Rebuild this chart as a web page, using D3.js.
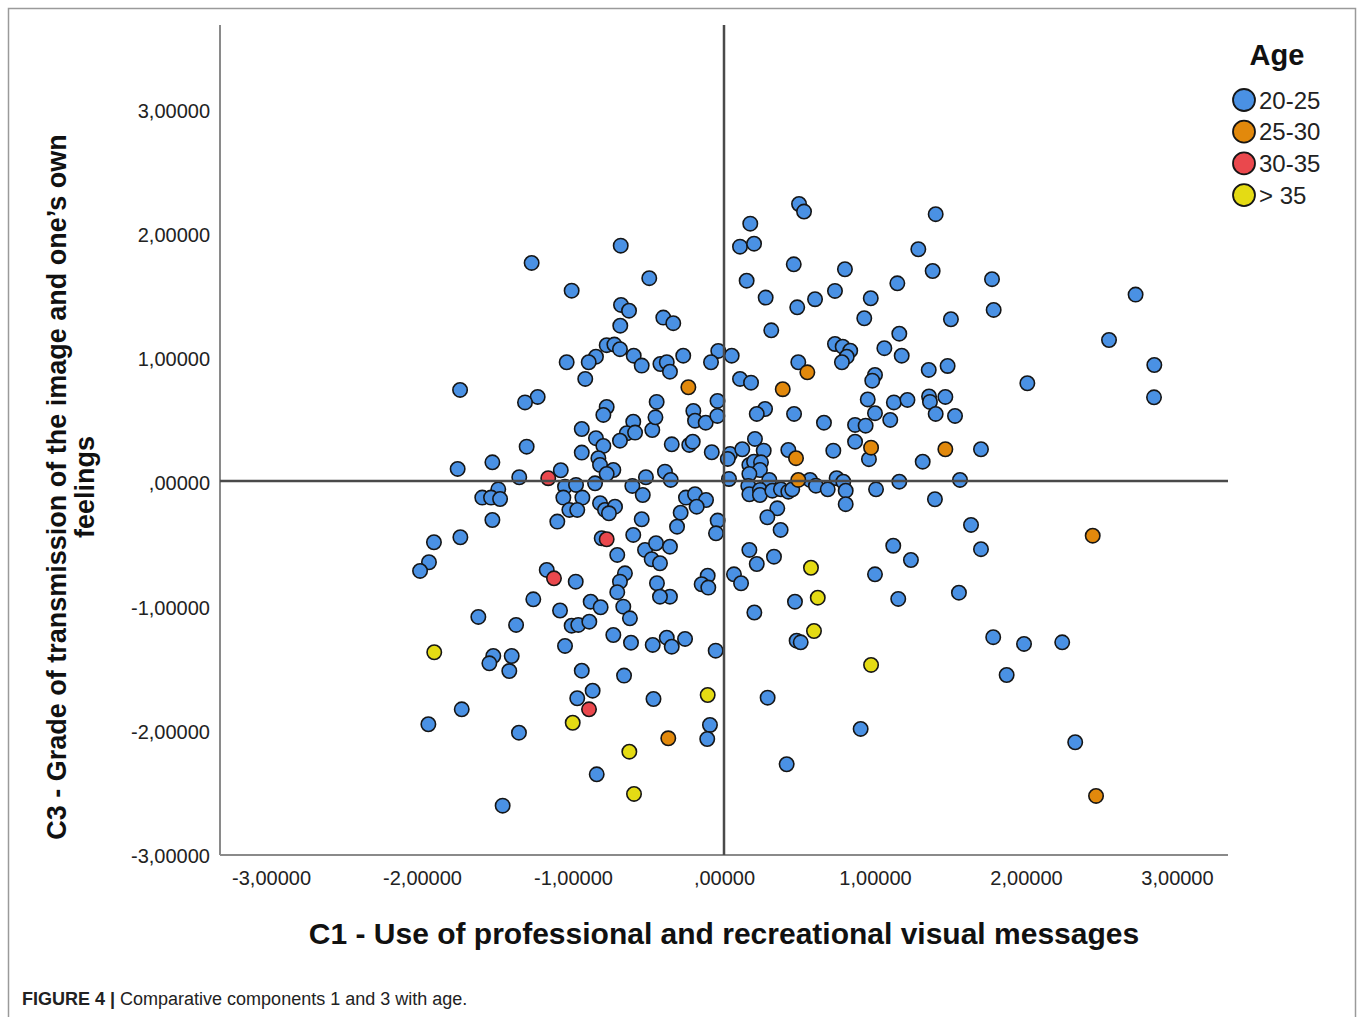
<!DOCTYPE html>
<html>
<head>
<meta charset="utf-8">
<script src="https://cdn.jsdelivr.net/npm/d3@7/dist/d3.min.js"></script>
<style>
  html, body { margin: 0; padding: 0; background: #fff; }
  svg { display: block; }
  text { font-family: "Liberation Sans", Arial, sans-serif; }
</style>
</head>
<body>
<svg id="chart" width="1357" height="1017"></svg>
<script>
// Age groups shown in the legend
const ageGroups = ["20-25", "25-30", "30-35", "> 35"];
const ageColors = ["#4a91e4", "#e2890c", "#ea484d", "#e4db14"];

// Component scores [C1, C3] per age group
const age20_25 = [
  [-0.684,1.893],[-1.274,1.754],[-0.495,1.631],[-1.009,1.531],[-0.682,1.416],[-0.629,1.370],[-0.687,1.249],[-0.777,1.092],
  [-0.726,1.097],[-0.689,1.060],[-0.598,1.008],[-0.545,0.928],[-0.848,1.000],[-0.896,0.955],[-1.042,0.955],[-0.919,0.821],
  [-1.748,0.732],[-1.234,0.676],[-1.318,0.632],[-0.777,0.595],[-0.446,0.636],[-0.402,1.314],[-0.421,0.941],
  [0.497,2.228],[0.530,2.167],[0.174,2.070],[0.106,1.885],[0.199,1.909],[0.462,1.743],[0.801,1.703],[0.150,1.611],
  [1.148,1.590],[0.276,1.475],[0.735,1.529],[0.603,1.462],[0.972,1.470],[0.485,1.397],[0.929,1.309],[-0.336,1.269],
  [0.313,1.212],[1.161,1.185],[0.735,1.102],[0.786,1.080],[0.836,1.048],[0.813,1.000],[0.781,0.955],[1.062,1.068],
  [1.177,1.008],[-0.270,1.008],[-0.038,1.046],[0.051,1.008],[-0.086,0.955],[-0.379,0.955],[-0.358,0.879],[0.492,0.955],
  [0.106,0.821],[0.179,0.791],[1.000,0.853],[0.982,0.807],[0.952,0.656],[1.125,0.632],[1.215,0.652],[-0.043,0.644],[0.272,0.579],
  [1.402,2.146],[1.287,1.864],[1.382,1.689],[1.775,1.623],[2.726,1.499],[1.786,1.376],[1.503,1.301],[2.550,1.134],
  [1.481,0.925],[1.356,0.893],[2.850,0.933],[2.009,0.786],[1.358,0.680],[1.364,0.636],[1.466,0.676],[2.848,0.673],
  [-0.799,0.531],[-0.942,0.418],[-0.848,0.344],[-0.799,0.282],[-0.601,0.477],[-0.644,0.384],[-0.589,0.389],[-0.689,0.324],
  [-0.475,0.410],[-0.454,0.512],[-1.307,0.276],[-0.942,0.228],[-0.832,0.183],[-0.821,0.129],[-0.733,0.088],[-0.777,0.056],
  [-1.534,0.150],[-1.764,0.097],[-1.081,0.086],[-1.356,0.030],[-0.854,-0.019],[-0.517,0.030],[-1.053,-0.046],[-0.980,-0.032],
  [-0.607,-0.040],[-0.538,-0.113],[-1.495,-0.067],[-1.601,-0.134],[-1.543,-0.134],[-1.483,-0.145],[-1.064,-0.134],[-0.938,-0.134],
  [-0.821,-0.179],[-0.788,-0.233],[-0.722,-0.207],[-0.762,-0.260],[-1.024,-0.233],[-0.972,-0.233],[-1.534,-0.314],[-1.104,-0.327],
  [-0.545,-0.308],[-0.810,-0.461],[-0.601,-0.434],[-1.746,-0.453],[-1.921,-0.493],[-1.954,-0.654],[-2.013,-0.724],[-0.707,-0.595],
  [-0.523,-0.555],[-0.450,-0.501],[-0.479,-0.630],[-0.656,-0.743],[-0.689,-0.810],[-0.707,-0.895],[-0.444,-0.823],[-1.174,-0.716],
  [-0.982,-0.810],[-1.263,-0.952],[-1.086,-1.042],[-0.883,-0.971],[-0.817,-1.016],[-0.667,-1.011],[-1.627,-1.094],
  [-0.203,0.563],[-0.192,0.485],[-0.121,0.469],[-0.044,0.523],[0.217,0.539],[0.464,0.539],[0.662,0.469],[0.868,0.451],
  [0.938,0.445],[0.868,0.316],[1.000,0.545],[1.101,0.491],[-0.346,0.295],[-0.230,0.290],[-0.207,0.316],[-0.081,0.231],
  [0.040,0.217],[0.025,0.177],[0.121,0.255],[0.205,0.338],[0.263,0.244],[0.426,0.249],[0.724,0.244],[0.960,0.175],
  [0.168,0.129],[0.199,0.155],[0.245,0.150],[0.238,0.088],[0.168,0.056],[-0.391,0.075],[-0.353,0.008],[0.033,0.016],
  [0.300,0.008],[0.570,0.008],[0.609,-0.038],[0.687,-0.067],[0.746,0.022],[0.790,-0.006],[0.806,-0.078],[0.806,-0.187],
  [1.007,-0.067],[1.161,-0.006],[0.161,-0.040],[0.168,-0.107],[0.238,-0.072],[0.238,-0.113],[0.320,-0.078],[0.377,-0.067],
  [0.426,-0.086],[0.452,-0.067],[-0.252,-0.134],[-0.192,-0.107],[-0.119,-0.153],[-0.181,-0.207],[-0.287,-0.255],[-0.311,-0.368],
  [-0.042,-0.319],[-0.053,-0.421],[0.353,-0.220],[0.287,-0.292],[0.375,-0.394],[0.168,-0.555],[0.217,-0.668],[0.331,-0.609],
  [1.121,-0.521],[1.238,-0.636],[1.000,-0.751],[0.066,-0.751],[0.113,-0.823],[-0.108,-0.762],[-0.148,-0.831],[-0.104,-0.858],
  [-0.358,-0.529],[-0.424,-0.662],[-0.358,-0.931],[-0.424,-0.931],[0.470,-0.971],[1.154,-0.949],[0.201,-1.058],
  [1.402,0.539],[1.530,0.523],[1.702,0.255],[1.316,0.155],[1.563,0.008],[1.397,-0.147],[1.636,-0.354],[1.702,-0.549],[1.556,-0.899],
  [-1.377,-1.158],[-1.009,-1.164],[-0.965,-1.158],[-0.892,-1.132],[-0.733,-1.239],[-0.623,-1.105],[-0.616,-1.301],[-0.472,-1.319],
  [-1.053,-1.327],[-1.528,-1.408],[-1.554,-1.467],[-1.406,-1.408],[-1.422,-1.529],[-0.942,-1.526],[-0.662,-1.566],[-0.870,-1.687],
  [-0.972,-1.748],[-0.467,-1.754],[-1.737,-1.837],[-1.958,-1.957],[-1.358,-2.025],[-0.843,-2.360],[-1.466,-2.612],
  [-0.379,-1.261],[-0.346,-1.333],[-0.258,-1.271],[-0.055,-1.365],[0.481,-1.285],[0.508,-1.298],[0.289,-1.743],[-0.093,-1.963],
  [-0.111,-2.076],[0.905,-1.995],[0.415,-2.279],
  [1.783,-1.257],[1.987,-1.311],[2.240,-1.298],[1.872,-1.561],[2.326,-2.102]
];
const age25_30 = [
  [0.552,0.874],[-0.236,0.754],[0.389,0.738],[0.477,0.183],[0.974,0.268],[0.492,0.008],[1.466,0.255],[2.442,-0.440],
  [-0.369,-2.070],[2.464,-2.534]
];
const age30_35 = [
  [-1.164,0.022],[-0.777,-0.469],[-1.126,-0.783],[-0.894,-1.837]
];
const ageOver35 = [
  [0.576,-0.698],[0.621,-0.939],[-1.919,-1.378],[-1.002,-1.945],[-0.627,-2.178],[-0.596,-2.518],[0.596,-1.207],
  [0.974,-1.480],[-0.108,-1.722]
];
const groupData = [age20_25, age25_30, age30_35, ageOver35];

// Axis ticks and their labels (decimal comma)
const xTicks = [-3, -2, -1, 0, 1, 2, 3];
const xTickLabels = ["-3,00000", "-2,00000", "-1,00000", ",00000", "1,00000", "2,00000", "3,00000"];
const yTicks = [-3, -2, -1, 0, 1, 2, 3];
const yTickLabels = ["-3,00000", "-2,00000", "-1,00000", ",00000", "1,00000", "2,00000", "3,00000"];

const xTitle = "C1 - Use of professional and recreational visual messages";
const yTitleLines = ["C3 - Grade of transmission of the image and one\u2019s own", "feelings"];
const legendTitle = "Age";

const svg = d3.select("#chart");

// Figure frame
svg.append("rect")
  .attr("x", 8.5).attr("y", 8.5).attr("width", 1347).attr("height", 1040)
  .attr("fill", "none").attr("stroke", "#9a9a9a").attr("stroke-width", 1.5);

const plot = { left: 220, right: 1228, top: 25, bottom: 855 };

const x = d3.scaleLinear().domain([-3.338, 3.338]).range([plot.left, plot.right]);
const y = d3.scaleLinear().domain([-3.009, 3.668]).range([plot.bottom, plot.top]);

// Axes (labels only, SPSS style without tick marks)
const xAxis = d3.axisBottom(x).tickValues(xTicks).tickSize(0).tickPadding(0)
  .tickFormat((d, i) => xTickLabels[i]);
const yAxis = d3.axisLeft(y).tickValues(yTicks).tickSize(0).tickPadding(0)
  .tickFormat((d, i) => yTickLabels[i]);

const gx = svg.append("g").attr("transform", `translate(0,${plot.bottom})`).call(xAxis);
gx.select(".domain").remove();
gx.selectAll("text")
  .attr("y", 23).attr("dy", "0.35em")
  .attr("font-size", 20).attr("fill", "#222")
  .style("font-family", "'Liberation Sans', Arial, sans-serif");

const gy = svg.append("g").attr("transform", `translate(${plot.left},0)`).call(yAxis);
gy.select(".domain").remove();
gy.selectAll("text")
  .attr("x", -10).attr("dy", "0.45em")
  .attr("font-size", 20).attr("fill", "#222")
  .style("font-family", "'Liberation Sans', Arial, sans-serif");

// Axis lines
svg.append("line")
  .attr("x1", plot.left).attr("x2", plot.left).attr("y1", plot.top).attr("y2", plot.bottom)
  .attr("stroke", "#8a8a8a").attr("stroke-width", 2);
svg.append("line")
  .attr("x1", plot.left).attr("x2", plot.right).attr("y1", plot.bottom).attr("y2", plot.bottom)
  .attr("stroke", "#8a8a8a").attr("stroke-width", 2);

// Points
const pts = svg.append("g");
groupData.forEach((arr, gi) => {
  pts.selectAll(null).data(arr).enter().append("circle")
    .attr("cx", d => x(d[0]))
    .attr("cy", d => y(d[1]))
    .attr("r", 7.2)
    .attr("fill", ageColors[gi])
    .attr("stroke", "#151515")
    .attr("stroke-width", 1.6);
});

// Reference lines at zero
svg.append("line")
  .attr("x1", x(0)).attr("x2", x(0)).attr("y1", plot.top).attr("y2", plot.bottom)
  .attr("stroke", "#4a4a4a").attr("stroke-width", 2.5);
svg.append("line")
  .attr("x1", plot.left).attr("x2", plot.right).attr("y1", y(0)).attr("y2", y(0))
  .attr("stroke", "#4a4a4a").attr("stroke-width", 2.5);

// Axis titles
svg.append("text")
  .attr("x", 724).attr("y", 944)
  .attr("text-anchor", "middle")
  .attr("font-size", 30).attr("font-weight", "bold").attr("fill", "#111")
  .text(xTitle);

const yt = svg.append("text")
  .attr("transform", "translate(0,487) rotate(-90)")
  .attr("text-anchor", "middle")
  .attr("font-size", 27).attr("font-weight", "bold").attr("fill", "#111");
yt.append("tspan").attr("x", 0).attr("y", 66).text(yTitleLines[0]);
yt.append("tspan").attr("x", 0).attr("y", 94).text(yTitleLines[1]);

// Legend
svg.append("text")
  .attr("x", 1277).attr("y", 65)
  .attr("text-anchor", "middle")
  .attr("font-size", 29).attr("font-weight", "bold").attr("fill", "#111")
  .text(legendTitle);

const leg = svg.append("g");
ageGroups.forEach((g, i) => {
  const cy = 100 + i * 31.7;
  leg.append("circle")
    .attr("cx", 1244).attr("cy", cy).attr("r", 11)
    .attr("fill", ageColors[i]).attr("stroke", "#151515").attr("stroke-width", 1.8);
  leg.append("text")
    .attr("x", 1259).attr("y", cy).attr("dy", "0.36em")
    .attr("font-size", 24).attr("fill", "#222")
    .text(g);
});

// Caption
const cap = svg.append("text").attr("x", 22).attr("y", 1005).attr("font-size", 18).attr("fill", "#222");
cap.append("tspan").attr("font-weight", "bold").text("FIGURE 4 | ");
cap.append("tspan").text("Comparative components 1 and 3 with age.");
</script>
</body>
</html>
